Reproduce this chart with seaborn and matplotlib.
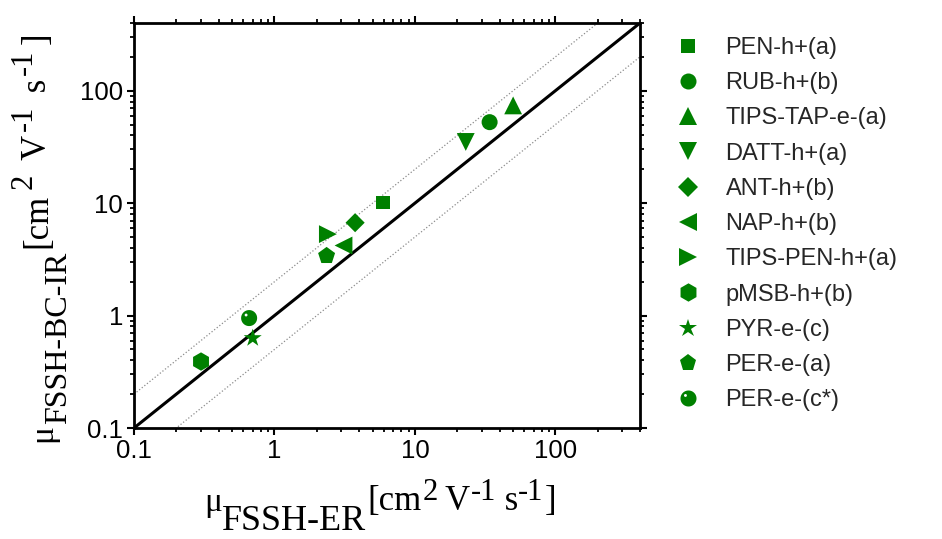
import numpy as np
import pandas as pd
import matplotlib
matplotlib.use("Agg")
import matplotlib.pyplot as plt
from matplotlib.path import Path
from matplotlib import ticker
import seaborn as sns

# ---------------- data ----------------
names = ['PEN-h+(a)', 'RUB-h+(b)', 'TIPS-TAP-e-(a)', 'DATT-h+(a)', 'ANT-h+(b)',
         'NAP-h+(b)', 'TIPS-PEN-h+(a)', 'pMSB-h+(b)', 'PYR-e-(c)', 'PER-e-(a)',
         'PER-e-(c*)']
mu_er = [5.9, 34.0, 50.0, 23.0, 3.75, 3.1, 2.4, 0.30, 0.70, 2.35, 0.66]
mu_bc = [10.1, 52.5, 74.0, 35.0, 6.7, 4.2, 5.3, 0.39, 0.63, 3.4, 0.95]
axis_lims = [0.1, 400]
ref_ratios = [1.0, 2.0, 0.5]
tick_vals = [0.1, 1, 10, 100]
tick_labels = ['0.1', '1', '10', '100']

# ---------------- style ----------------
sns.set_theme(style="ticks")
plt.rcParams['font.family'] = ['Liberation Sans', 'DejaVu Sans']

GREEN = '#008000'

# shaded-ball marker: filled circle with a small highlight hole
th = np.linspace(0, 2 * np.pi, 80)
outer = np.column_stack([np.cos(th), np.sin(th)])
inner = np.column_stack([-0.38 + 0.18 * np.cos(-th), 0.38 + 0.18 * np.sin(-th)])
ball = Path.make_compound_path(Path(outer, closed=True), Path(inner, closed=True))

marker_map = {
    'PEN-h+(a)': 's', 'RUB-h+(b)': 'o', 'TIPS-TAP-e-(a)': '^', 'DATT-h+(a)': 'v',
    'ANT-h+(b)': 'D', 'NAP-h+(b)': '<', 'TIPS-PEN-h+(a)': '>', 'pMSB-h+(b)': 'h',
    'PYR-e-(c)': '*', 'PER-e-(a)': 'p', 'PER-e-(c*)': ball,
}
size_map = {
    'PEN-h+(a)': 97, 'RUB-h+(b)': 133, 'TIPS-TAP-e-(a)': 165, 'DATT-h+(a)': 165,
    'ANT-h+(b)': 95, 'NAP-h+(b)': 165, 'TIPS-PEN-h+(a)': 165, 'pMSB-h+(b)': 175,
    'PYR-e-(c)': 185, 'PER-e-(a)': 165, 'PER-e-(c*)': 133,
}

df = pd.DataFrame({'name': names, 'x': mu_er, 'y': mu_bc})

W, H = 942, 539
fig = plt.figure(figsize=(W / 100, H / 100), dpi=100)
ax = fig.add_axes([134 / W, 1 - 428 / H, (640 - 134) / W, (428 - 23) / H])

# reference lines y = r * x
for r in ref_ratios:
    ys = [v * r for v in axis_lims]
    if r == 1.0:
        ax.plot(axis_lims, ys, color='black', lw=2.2, zorder=2)
    else:
        ax.plot(axis_lims, ys, color='#8c8c8c', lw=0.9, ls=':', zorder=1)

sns.scatterplot(data=df, x='x', y='y', style='name', markers=marker_map,
                size='name', sizes=size_map,
                color=GREEN, linewidth=0, edgecolor='none', ax=ax,
                zorder=3, legend=True)

ax.set_xscale('log')
ax.set_yscale('log')
ax.set_xlim(axis_lims)
ax.set_ylim(axis_lims)

for axis in (ax.xaxis, ax.yaxis):
    axis.set_major_locator(ticker.FixedLocator(tick_vals))
    axis.set_major_formatter(ticker.FixedFormatter(tick_labels))
    axis.set_minor_locator(ticker.LogLocator(base=10, subs=np.arange(2, 10)))
    axis.set_minor_formatter(ticker.NullFormatter())

ax.tick_params(which='both', direction='out', top=True, right=True,
               colors='black', width=1.5)
ax.tick_params(which='major', length=5, labelsize=18.5, pad=3)
ax.tick_params(which='minor', length=3, width=1.3)
for sp in ax.spines.values():
    sp.set_linewidth(2.0)
    sp.set_color('black')
ax.set_xlabel('')
ax.set_ylabel('')

# legend
sns.move_legend(ax, 'upper left', bbox_to_anchor=(676 / W, 1 - 37 / H),
                bbox_transform=fig.transFigure, frameon=False, title=None,
                fontsize=17, handlelength=1.0, handletextpad=1.1,
                labelspacing=0.56, borderpad=0, borderaxespad=0)

# ---------------- axis labels (piecewise, serif) ----------------
SERIF = ['Liberation Serif', 'DejaVu Serif']

def chain_h(pieces, x0):
    prev = None
    for txt, size, base, gap in pieces:
        if prev is None:
            kw = dict(xy=(x0, base), xycoords='figure pixels')
        else:
            kw = dict(xy=(1, base), xycoords=(prev, 'figure pixels'))
        prev = ax.annotate(txt, xytext=(gap, 0), textcoords='offset pixels',
                           ha='left', va='baseline', fontsize=size,
                           family=SERIF, color='black', annotation_clip=False, **kw)

def chain_v(pieces, y0):
    prev = None
    for txt, size, base, gap in pieces:
        if prev is None:
            kw = dict(xy=(base, y0), xycoords='figure pixels')
        else:
            kw = dict(xy=(base, 1), xycoords=('figure pixels', prev))
        prev = ax.annotate(txt, xytext=(0, gap), textcoords='offset pixels',
                           ha='left', va='baseline', fontsize=size,
                           rotation=90, rotation_mode='anchor',
                           family=SERIF, color='black', annotation_clip=False, **kw)

xlabel_pieces = [('\u03bc', 24, 28, 0), ('FSSH-ER', 26, 9, 0), ('[cm', 25, 29, 1),
                 ('2', 22, 39, 1), (' V', 25, 29, 0), ('-1', 22, 39, 0),
                 (' s', 25, 29, 0), ('-1', 22, 39, 0), (']', 25, 29, 1)]
chain_h(xlabel_pieces, 204)

ylabel_pieces = [('\u03bc', 24, 51, 0), ('FSSH-BC-IR', 23, 66, 0), ('[cm', 25, 46, 4),
                 ('2', 22, 32, 5), (' V', 25, 46, 5), ('-1', 22, 32, 4),
                 (' s', 25, 46, 5), ('-1', 22, 32, 4), (']', 25, 46, 5)]
chain_v(ylabel_pieces, 97)

fig.savefig('out.png', dpi=100)
